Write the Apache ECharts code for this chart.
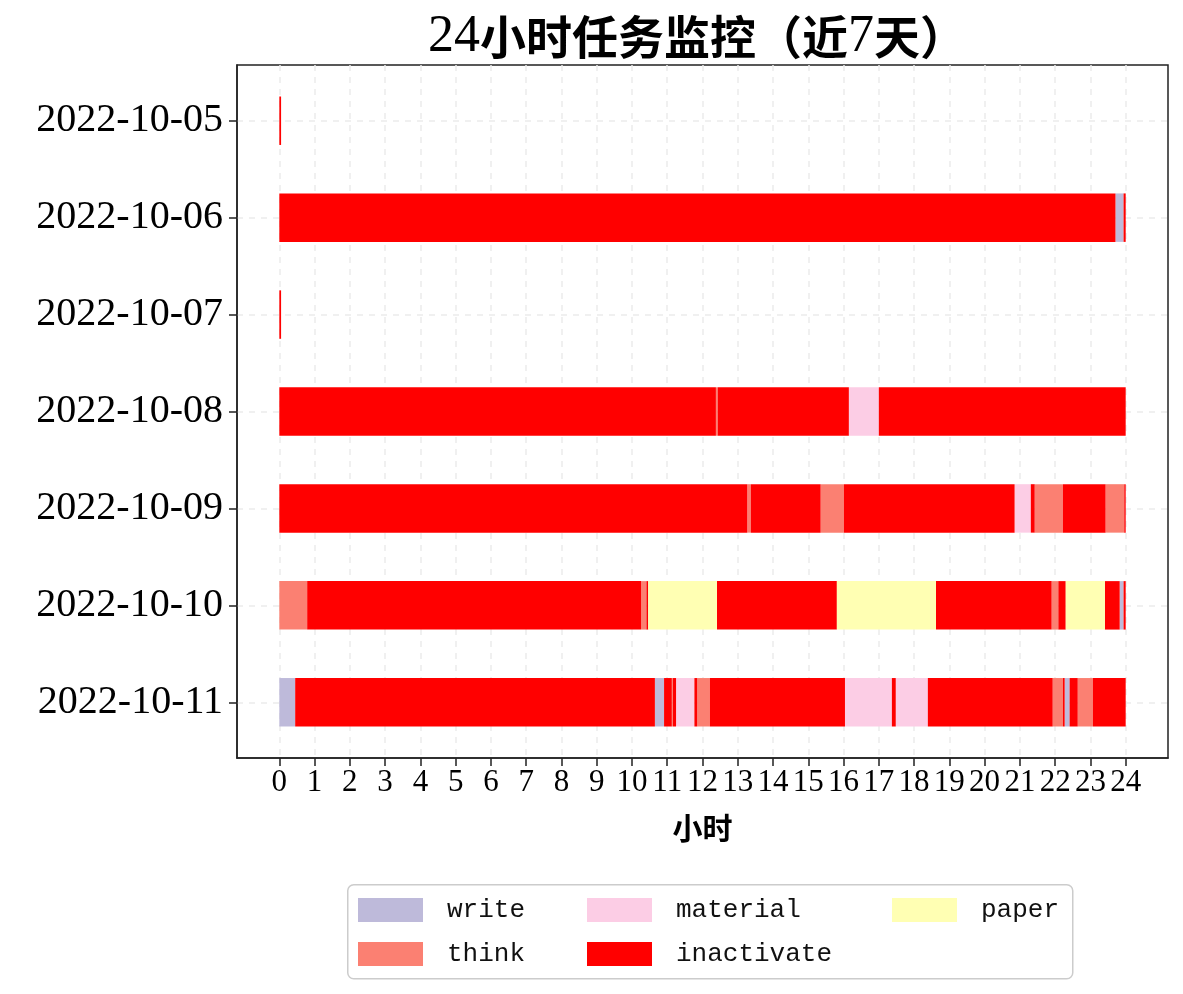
<!DOCTYPE html>
<html>
<head>
<meta charset="utf-8">
<script src="https://cdn.jsdelivr.net/npm/echarts@6/dist/echarts.min.js"></script>
<style>html,body{margin:0;padding:0;background:#fff;}#chart{width:1183px;height:994px;}</style>
</head>
<body>
<div id="chart"></div>
<script>
// ---- data ----
const days = ['2022-10-05','2022-10-06','2022-10-07','2022-10-08','2022-10-09','2022-10-10','2022-10-11'];
const hourTicks = [0,1,2,3,4,5,6,7,8,9,10,11,12,13,14,15,16,17,18,19,20,21,22,23,24];
const states = ['write','think','material','inactivate','paper'];
// segments: [start hour, end hour, state]
const d1005 = [[0,0.05,'inactivate']];
const d1006 = [[0,23.71,'inactivate'],[23.71,23.94,'write'],[23.94,24,'inactivate']];
const d1007 = [[0,0.05,'inactivate']];
const d1008 = [[0,12.38,'inactivate'],[12.38,12.43,'think'],[12.43,16.15,'inactivate'],[16.15,17.0,'material'],[17.0,24,'inactivate']];
const d1009 = [[0,13.27,'inactivate'],[13.27,13.37,'think'],[13.37,15.35,'inactivate'],[15.35,16.01,'think'],[16.01,20.85,'inactivate'],[20.85,21.31,'material'],[21.31,21.42,'inactivate'],[21.42,22.22,'think'],[22.22,23.43,'inactivate'],[23.43,23.96,'think'],[23.96,24,'inactivate']];
const d1010 = [[0,0.79,'think'],[0.79,10.26,'inactivate'],[10.26,10.41,'think'],[10.41,10.46,'inactivate'],[10.46,12.41,'paper'],[12.41,15.81,'inactivate'],[15.81,18.62,'paper'],[18.62,21.90,'inactivate'],[21.90,22.09,'think'],[22.09,22.30,'inactivate'],[22.30,23.41,'paper'],[23.41,23.83,'inactivate'],[23.83,23.94,'write'],[23.94,24,'inactivate']];
const d1011 = [[0,0.45,'write'],[0.45,10.65,'inactivate'],[10.65,10.91,'write'],[10.91,11.13,'inactivate'],[11.13,11.16,'think'],[11.16,11.25,'inactivate'],[11.25,11.77,'material'],[11.77,11.85,'inactivate'],[11.85,12.21,'think'],[12.21,16.04,'inactivate'],[16.04,17.37,'material'],[17.37,17.48,'inactivate'],[17.48,18.39,'material'],[18.39,21.93,'inactivate'],[21.93,22.22,'think'],[22.22,22.27,'inactivate'],[22.27,22.41,'write'],[22.41,22.64,'inactivate'],[22.64,23.07,'think'],[23.07,24,'inactivate']];
const daySegments = [d1005,d1006,d1007,d1008,d1009,d1010,d1011];

// ---- styles ----
const stateColors = {write:'#bebada', think:'#fb8072', material:'#fccde5', inactivate:'#ff0000', paper:'#ffffb3'};
const serif = "'Liberation Serif', 'DejaVu Serif', serif";
const cjk = "'Noto Sans CJK SC', sans-serif";
const mono = "'Liberation Mono', 'DejaVu Sans Mono', monospace";

const series = states.map(function (st) {
  const data = [];
  daySegments.forEach(function (segs, di) {
    segs.forEach(function (s) { if (s[2] === st) data.push([s[0], s[1], di]); });
  });
  return {
    name: st,
    type: 'custom',
    data: data,
    encode: {x: [0, 1], y: 2},
    itemStyle: {color: stateColors[st]},
    renderItem: function (params, api) {
      const a = api.coord([api.value(0), api.value(2)]);
      const b = api.coord([api.value(1), api.value(2)]);
      const h = api.size([0, 0.5])[1];
      return {type: 'rect', shape: {x: a[0], y: a[1] - h / 2, width: b[0] - a[0], height: h},
              style: {fill: stateColors[st]}};
    }
  };
});

const legendBase = {
  orient: 'vertical', padding: 0, itemWidth: 65, itemHeight: 24, itemGap: 18, icon: 'rect',
  selectedMode: false,
  textStyle: {fontFamily: mono, fontSize: 26, color: '#111', padding: [0, 0, 0, 19]}
};

const chart = echarts.init(document.getElementById('chart'));
chart.setOption({
  backgroundColor: '#fff',
  animation: false,
  title: {
    text: '{d|24}{c|小时任务监控（近}{d|7}{c|天）}',
    left: 692, top: 6, textAlign: 'center',
    textStyle: {
      rich: {
        d: {fontFamily: serif, fontSize: 52, fontWeight: 'normal', color: '#000'},
        c: {fontFamily: cjk, fontSize: 46, fontWeight: 'bold', color: '#000'}
      }
    }
  },
  graphic: [{
    type: 'rect', left: 347, top: 884, z: -1,
    shape: {width: 725, height: 94, r: 6},
    style: {fill: '#fff', stroke: '#cccccc', lineWidth: 1.5}
  }],
  legend: [
    Object.assign({}, legendBase, {left: 358, top: 897, data: ['write', 'think']}),
    Object.assign({}, legendBase, {left: 587, top: 897, data: ['material', 'inactivate']}),
    Object.assign({}, legendBase, {left: 892, top: 897, data: ['paper']})
  ],
  grid: {left: 237, right: 15, top: 65, bottom: 236, show: true, borderColor: '#222', borderWidth: 1.5, backgroundColor: 'transparent'},
  xAxis: {
    type: 'value', min: -1.2, max: 25.2,
    name: '小时', nameLocation: 'middle', nameGap: 55,
    nameTextStyle: {fontFamily: cjk, fontSize: 30, fontWeight: 'bold', color: '#000'},
    axisLine: {show: true, onZero: false, lineStyle: {color: '#222', width: 1.5}},
    axisTick: {show: true, length: 8, customValues: hourTicks, lineStyle: {color: '#222', width: 1.5}},
    axisLabel: {customValues: hourTicks, fontFamily: serif, fontSize: 31, color: '#000', margin: 9},
    splitLine: {show: true, lineStyle: {color: '#ececec', width: 1.5, type: [6, 6]}}
  },
  yAxis: {
    type: 'value', min: -0.575, max: 6.575, inverse: true,
    axisLine: {show: true, onZero: false, lineStyle: {color: '#222', width: 1.5}},
    axisTick: {show: true, length: 8, customValues: days.map(function (d, i) { return i; }), lineStyle: {color: '#222', width: 1.5}},
    axisLabel: {
      customValues: days.map(function (d, i) { return i; }),
      formatter: function (v) { return days[Math.round(v)]; },
      fontFamily: serif, fontSize: 40, color: '#000', margin: 14
    },
    splitLine: {show: true, lineStyle: {color: '#ececec', width: 1.5, type: [6, 6]}}
  },
  series: series
});
</script>
</body>
</html>
